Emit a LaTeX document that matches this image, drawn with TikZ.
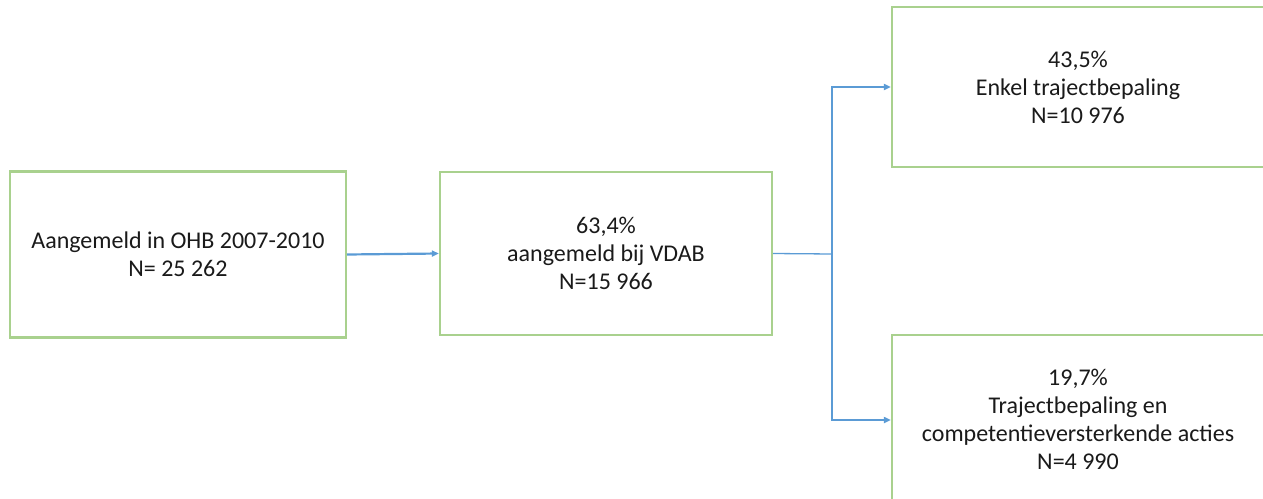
\documentclass[tikz,border=0pt]{standalone}
\usepackage{fontspec}
\setmainfont{Carlito}
\usetikzlibrary{arrows.meta}
\definecolor{boxgreen}{HTML}{A9D18E}
\definecolor{lineblue}{HTML}{5B9BD5}
\definecolor{txt}{HTML}{1A1A1A}
\tikzset{
  box/.style={draw=boxgreen, line width=2.2pt, fill=white, align=center, text=txt,
    font=\fontsize{24}{28}\selectfont, inner sep=0pt},
  conn/.style={draw=lineblue, line width=2.2pt},
  arr/.style={conn, -{Triangle[length=7pt,width=6pt]}},
}
\begin{document}
\begin{tikzpicture}[x=1pt,y=-1pt]
\useasboundingbox (0,0) rectangle (1263,498);
\clip (0,0) rectangle (1263,498);
\node[box, minimum width=336pt, minimum height=166pt] (b1) at (178,254.5)
  {Aangemeld in OHB 2007-2010\\N= 25 262};
\node[box, minimum width=332pt, minimum height=163pt] (b2) at (606,253.5)
  {63,4\%\\aangemeld bij VDAB\\N=15 966};
\node[box, minimum width=372pt, minimum height=160pt] (b3) at (1078,87)
  {43,5\%\\Enkel trajectbepaling\\N=10 976};
\node[box, minimum width=372pt, minimum height=168pt] (b4) at (1078,419)
  {19,7\%\\Trajectbepaling en\\competentieversterkende acties\\N=4 990};
\coordinate (j) at (832,254);
\draw[arr] (b1.east) -- (b2.west);
\draw[conn, line width=1.3pt] (b2.east) -- (j);
\draw[arr] (j) |- (b3.west);
\draw[arr] (j) |- ([yshift=-1pt]b4.west);
\end{tikzpicture}
\end{document}
